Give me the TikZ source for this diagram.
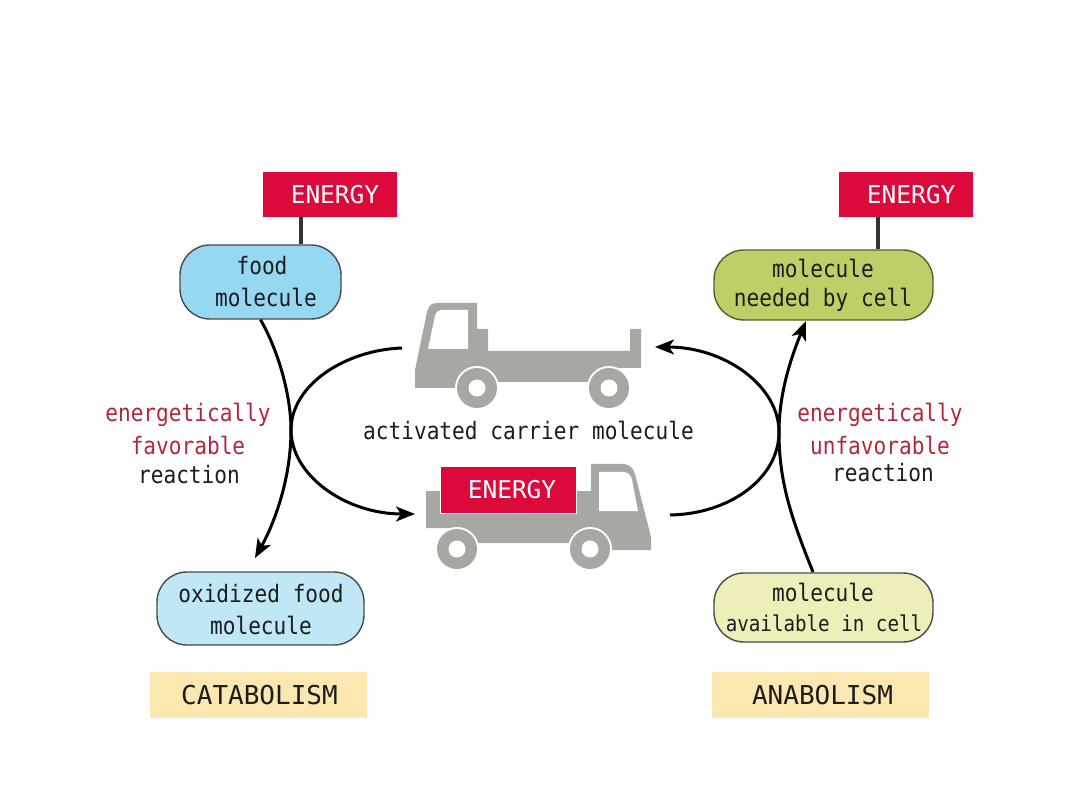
\documentclass[tikz,border=0pt]{standalone}
\usepackage{fontspec}
\setmainfont[FakeStretch=0.88]{DejaVu Sans Mono}
\newfontfamily\capsface{DejaVu Sans Mono}
\usetikzlibrary{arrows.meta}
\definecolor{energyred}{HTML}{DC0A3C}
\definecolor{truckgrey}{HTML}{A8A8A3}
\definecolor{foodblue}{HTML}{96D8F2}
\definecolor{paleblue}{HTML}{BFE7F6}
\definecolor{leafgreen}{HTML}{BDD068}
\definecolor{palegreen}{HTML}{EDEEB8}
\definecolor{sand}{HTML}{FBE8B0}
\definecolor{labelred}{HTML}{B0283C}
\definecolor{ink}{HTML}{1C1C1C}
\newcommand{\fs}[1]{\fontsize{#1}{#1}\selectfont}
\tikzset{
  x=1pt,y=-1pt,
  energybox/.style={fill=energyred,minimum width=134pt,minimum height=45pt,inner sep=0pt,text=white,font=\capsface\fs{24.5}},
  molecule/.style={draw=ink!80,line width=1.4pt,rounded corners=30pt,inner sep=0pt,align=center,text=ink},
  pathway/.style={fill=sand,minimum width=217pt,minimum height=46pt,inner sep=0pt,text=ink,font=\capsface\fs{26}},
  caption/.style={inner sep=0pt,text=ink,font=\fs{24}},
  redcaption/.style={caption,text=labelred},
  stem/.style={draw=ink!90,line width=3.6pt},
  flow/.style={draw=black,line width=3pt,-{Stealth[length=19pt,width=15pt,inset=5pt]}},
}
\begin{document}
\begin{tikzpicture}
\useasboundingbox (0,0) rectangle (1080,810);
\fill[white] (0,0) rectangle (1080,810);

% Empty truck
\fill[truckgrey] (415,388) -- (415,370) -- (427,312) .. controls (429,305) and (431,303) .. (438,303) -- (477,303) -- (477,329) -- (488,329) -- (488,351) -- (630,351) -- (630,329) -- (641,329) -- (641,368) -- (609,368) -- (609,382) -- (477,382) -- (477,388) -- cycle;
\fill[white] (428,349) -- (435,316) .. controls (436,312) and (438,310) .. (443,310) -- (468,310) -- (468,349) -- cycle;
\foreach \cx in {477,609}{
  \fill[white] (\cx,388) circle (22);
  \fill[truckgrey] (\cx,388) circle (20);
  \fill[white] (\cx,388) circle (8.5);
}

% Loaded truck
\fill[truckgrey] (426,491) -- (591,491) -- (591,464) -- (622,464) .. controls (630,464) and (633,468) .. (635,474) -- (651,537) -- (651,550) -- (590,550) -- (590,543) -- (457,543) -- (457,528) -- (426,528) -- cycle;
\fill[white] (599,472) -- (599,511) -- (638,511) -- (632,480) .. controls (631,475) and (628,472) .. (623,472) -- cycle;
\foreach \cx in {457,590}{
  \fill[white] (\cx,549) circle (22);
  \fill[truckgrey] (\cx,549) circle (20);
  \fill[white] (\cx,549) circle (8.5);
}
\node[energybox,minimum width=136pt,minimum height=47pt,draw=white,line width=.8pt] (loadE) at (508,489.5) {\hspace*{8pt}ENERGY};

% Energy tags and molecules
\node[energybox] (foodE) at (330,194.5) {\hspace*{10pt}ENERGY};
\node[energybox] (needE) at (906,194.5) {\hspace*{10pt}ENERGY};
\node[molecule,fill=foodblue,minimum width=161pt,minimum height=74pt] (food) at (260.5,282) {};
\node[molecule,fill=leafgreen,draw=leafgreen!45!black,minimum width=219pt,minimum height=70pt] (need) at (823.5,285) {};
\node[molecule,fill=paleblue,minimum width=207pt,minimum height=73pt] (oxid) at (260.5,608.5) {};
\node[molecule,fill=palegreen,minimum width=219pt,minimum height=69pt] (avail) at (823.5,607.5) {};
\node[caption] at (262,266) {food};
\node[caption] at (266,297) {molecule};
\node[caption] at (823,268) {molecule};
\node[caption] at (823,300) {needed by cell};
\node[caption] at (261,594) {oxidized food};
\node[caption] at (261,625) {molecule};
\node[caption] at (823,592) {molecule};
\node[caption,font=\fs{21.8}] at (824,623) {available in cell};

\draw[stem] (foodE.south -| 301,0) -- (food.north -| 301,0);
\draw[stem] (needE.south -| 878,0) -- (need.north -| 878,0);

% Reaction arrows
\coordinate (crossL) at (291,430);
\coordinate (crossR) at (779,432);
\coordinate (oxidEnd) at (255,558);
\coordinate (emptyL) at (402,348);
\coordinate (loadL) at (415,514);
\coordinate (loadR) at (670,515);
\coordinate (emptyR) at (655,347);
\coordinate (needEnd) at (806,321);
\coordinate (availStart) at (813,572);
\draw[flow] (food.south) .. controls (278,350) and (291,395) .. (crossL) .. controls (291,478) and (275,522) .. (oxidEnd);
\draw[flow] (emptyL) .. controls (345,350) and (291,385) .. (crossL) .. controls (291,475) and (345,514) .. (loadL);
\draw[flow] (availStart) .. controls (790,515) and (779,480) .. (crossR) .. controls (779,395) and (790,360) .. (needEnd);
\draw[flow] (loadR) .. controls (730,514) and (779,478) .. (crossR) .. controls (779,386) and (725,347) .. (emptyR);

% Labels
\node[redcaption] at (188,415) {energetically};
\node[redcaption] at (188,445) {favorable};
\node[caption] at (189,475) {reaction};
\node[redcaption] at (880,415) {energetically};
\node[redcaption] at (880,445) {unfavorable};
\node[caption] at (883,473) {reaction};
\node[caption] at (528.5,430) {activated carrier molecule};
\node[pathway] (cat) at (258.5,695) {\hspace*{2pt}CATABOLISM};
\node[pathway] (ana) at (820.5,695) {\hspace*{4pt}ANABOLISM};
\end{tikzpicture}
\end{document}
